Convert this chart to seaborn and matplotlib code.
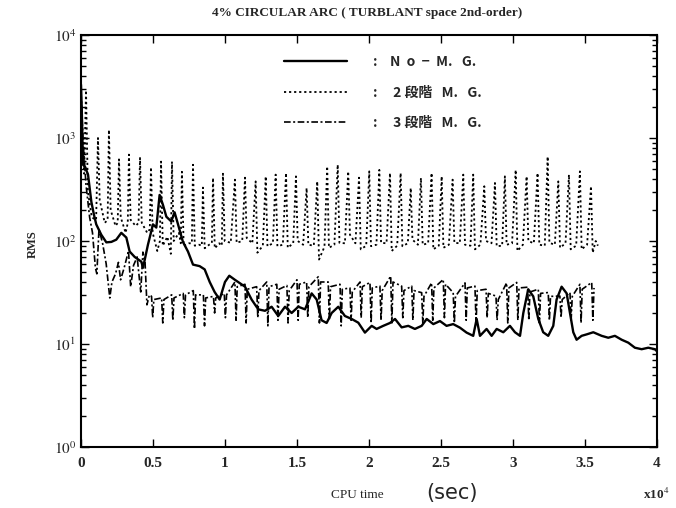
import matplotlib
matplotlib.use("Agg")
import matplotlib.pyplot as plt
import seaborn as sns
from matplotlib.ticker import LogLocator, NullFormatter, FixedLocator

# ---------------- data ----------------
# No-M.G. (solid)
solid_x = [0.000, 0.005, 0.014, 0.030, 0.049, 0.072, 0.090, 0.106, 0.141, 0.176,
           0.211, 0.245, 0.280, 0.315, 0.338, 0.373, 0.419, 0.431, 0.465, 0.500,
           0.523, 0.546, 0.569, 0.593, 0.627, 0.650, 0.674, 0.708, 0.743, 0.778,
           0.824, 0.859, 0.894, 0.928, 0.963, 1.000, 1.030, 1.069, 1.139, 1.185,
           1.231, 1.278, 1.324, 1.370, 1.417, 1.463, 1.509, 1.556, 1.602, 1.637,
           1.671, 1.706, 1.741, 1.787, 1.833, 1.880, 1.926, 1.972, 2.019, 2.053,
           2.099, 2.146, 2.181, 2.227, 2.273, 2.319, 2.366, 2.401, 2.447, 2.493,
           2.539, 2.585, 2.632, 2.678, 2.724, 2.748, 2.771, 2.817, 2.852, 2.887,
           2.933, 2.979, 3.014, 3.049, 3.072, 3.106, 3.141, 3.176, 3.210, 3.245,
           3.280, 3.303, 3.338, 3.373, 3.396, 3.419, 3.442, 3.477, 3.512, 3.558,
           3.616, 3.662, 3.708, 3.755, 3.801, 3.847, 3.894, 3.940, 3.986, 4.000]
solid_y = [3300, 2000, 550, 520, 440, 240, 180, 145, 115, 97,
           98, 103, 120, 108, 79, 70, 63, 55, 92, 145,
           135, 280, 225, 172, 155, 190, 145, 98, 79, 59,
           57, 53, 40, 32, 27, 40, 46, 42, 36, 27,
           21.7, 21, 23, 18.7, 23, 20, 23, 21.7, 31, 27,
           17, 16, 20, 23, 18.7, 17.5, 16.1, 12.9, 15, 14,
           15, 16, 17.5, 14.5, 15, 14, 15, 17.5, 15.6, 16.7,
           15, 15.6, 14.4, 12.9, 12, 17.5, 12, 14, 12, 14,
           13, 15, 13, 12, 20, 34, 29, 17.5, 13, 12,
           15, 27, 36, 31, 20, 13, 11, 12, 12.4, 13,
           12, 11.5, 12, 11, 10.3, 9.2, 8.9, 9.2, 8.9, 8.5]

# 2段階 M.G. (dotted)
dot_x = [0.000, 0.022, 0.035, 0.048, 0.075, 0.105, 0.118, 0.130, 0.165, 0.185,
         0.194, 0.206, 0.240, 0.255, 0.264, 0.276, 0.310, 0.325, 0.333, 0.345,
         0.380, 0.400, 0.410, 0.422, 0.460, 0.478, 0.486, 0.498, 0.530, 0.548,
         0.556, 0.568, 0.600, 0.624, 0.632, 0.644, 0.680, 0.693, 0.701, 0.713,
         0.750, 0.770, 0.778, 0.790, 0.820, 0.839, 0.847, 0.859, 0.890, 0.909,
         0.917, 0.929, 0.960, 0.978, 0.986, 0.998, 1.040,
         1.069, 1.081, 1.120, 1.139, 1.151, 1.190, 1.213, 1.225, 1.263,
         1.283, 1.295, 1.333, 1.352, 1.364, 1.402, 1.424, 1.436, 1.474,
         1.493, 1.505, 1.543, 1.567, 1.579, 1.617, 1.641, 1.653, 1.691,
         1.710, 1.722, 1.760, 1.783, 1.795, 1.833, 1.856, 1.868, 1.906,
         1.931, 1.943, 1.981, 2.002, 2.014, 2.052, 2.072, 2.084, 2.122,
         2.146, 2.158, 2.196, 2.220, 2.232, 2.270, 2.290, 2.302, 2.340,
         2.361, 2.373, 2.411, 2.435, 2.447, 2.485, 2.505, 2.517, 2.555,
         2.581, 2.593, 2.631, 2.655, 2.667, 2.705, 2.724, 2.736, 2.774,
         2.801, 2.813, 2.851, 2.875, 2.887, 2.925, 2.944, 2.956, 2.994,
         3.019, 3.031, 3.069, 3.095, 3.107, 3.145, 3.171, 3.183, 3.221,
         3.241, 3.253, 3.291, 3.315, 3.327, 3.365, 3.389, 3.401, 3.439,
         3.465, 3.477, 3.515, 3.542, 3.554, 3.575, 3.590]
dot_y = [2500, 450, 2900, 300, 170, 160, 1000, 250, 150, 160,
         1200, 200, 140, 150, 620, 170, 120, 150, 690, 160,
         140, 150, 640, 150, 120, 130, 520, 120, 80, 100,
         590, 90, 110, 75, 590, 100, 120, 95, 470, 90,
         95, 95, 550, 90, 92, 90, 330, 85, 92, 95,
         410, 85, 95, 90, 450, 100, 96,
         394, 96, 100, 412, 107, 95, 379, 77, 90,
         424, 89, 95, 441, 89, 92, 457, 86, 95,
         424, 100, 92, 327, 92, 90, 379, 66, 88,
         530, 86, 92, 551, 96, 95, 474, 115, 95,
         412, 83, 90, 474, 89, 92, 490, 96, 95,
         457, 80, 90, 457, 89, 95, 327, 103, 92,
         410, 92, 95, 457, 83, 90, 424, 86, 92,
         394, 96, 95, 441, 92, 90, 441, 83, 92,
         340, 100, 95, 366, 89, 90, 424, 92, 95,
         490, 80, 92, 424, 100, 95, 457, 92, 90,
         660, 96, 92, 379, 86, 95, 441, 83, 90,
         474, 83, 92, 340, 77, 100, 90]

# 3段階 M.G. (dash-dot)
dd_x = [0.000, 0.015, 0.035, 0.060, 0.080, 0.100, 0.110, 0.125, 0.150, 0.175,
        0.200, 0.215, 0.240, 0.260, 0.275, 0.300, 0.330, 0.345, 0.365, 0.390,
        0.415, 0.430, 0.445, 0.458, 0.475,
        0.490, 0.498, 0.506, 0.560, 0.568, 0.576, 0.630, 0.638, 0.646,
        0.710, 0.718, 0.726, 0.780, 0.788, 0.796, 0.850, 0.858, 0.866,
        0.920, 0.928, 0.936, 0.995, 1.003, 1.011, 1.069, 1.077, 1.085,
        1.139, 1.147, 1.155, 1.220, 1.228, 1.236, 1.290, 1.298, 1.306,
        1.360, 1.368, 1.376, 1.430, 1.438, 1.446, 1.500, 1.508, 1.516,
        1.567, 1.575, 1.583, 1.648, 1.656, 1.664, 1.717, 1.725, 1.733,
        1.799, 1.807, 1.815, 1.868, 1.876, 1.884, 1.938, 1.946, 1.954,
        2.007, 2.015, 2.023, 2.076, 2.084, 2.092, 2.151, 2.159, 2.167,
        2.227, 2.235, 2.243, 2.297, 2.305, 2.313, 2.366, 2.374, 2.382,
        2.435, 2.443, 2.451, 2.516, 2.524, 2.532, 2.585, 2.593, 2.601,
        2.667, 2.675, 2.683, 2.736, 2.744, 2.752, 2.813, 2.821, 2.829,
        2.882, 2.890, 2.898, 2.956, 2.964, 2.972, 3.026, 3.034, 3.042,
        3.102, 3.110, 3.118, 3.176, 3.184, 3.192, 3.245, 3.253, 3.261,
        3.326, 3.334, 3.342, 3.396, 3.404, 3.412, 3.465, 3.473, 3.481,
        3.547, 3.555, 3.563]
dd_y = [2800, 900, 350, 170, 120, 55, 48, 130, 95, 60,
        28, 40, 48, 62, 42, 55, 80, 36, 58, 70,
        32, 78, 62, 24, 30,
        29, 18, 27, 28, 16, 27, 30, 17, 28,
        31, 18, 30, 33, 14, 30, 30, 15, 28,
        29, 20, 28, 31, 18, 30, 40, 17, 36,
        38, 16, 34, 36, 18, 33, 40, 15, 36,
        38, 17, 34, 37, 16, 33, 42, 17, 38,
        40, 18, 36, 45, 16, 40, 40, 17, 36,
        38, 15, 34, 35, 17, 32, 40, 18, 36,
        39.6, 16, 35, 36.5, 17, 33, 45.6, 16, 40,
        36.5, 18, 33, 36.5, 17, 33, 31.5, 16, 29,
        39.2, 17, 35, 42.3, 18, 38, 31.5, 16, 29,
        39.2, 17, 35, 36.5, 16, 33, 34, 18, 31,
        29.2, 17, 27, 39.2, 16, 35, 39.6, 17, 35,
        35.6, 17, 32, 34, 16, 31, 31.6, 17, 29,
        29.2, 18, 27, 31.6, 17, 29, 38, 16, 34,
        39.6, 17, 35]

labels = [":    N  o  \u2212  M.   G.", ":     2 段階   M.   G.", ":     3 段階   M.   G."]
x_ticks = [0, 0.5, 1, 1.5, 2, 2.5, 3, 3.5, 4]
x_tick_labels = ["0", "0.5", "1", "1.5", "2", "2.5", "3", "3.5", "4"]
y_ticks = [1, 10, 100, 1000, 10000]
y_tick_labels = ["$10^{0}$", "$10^{1}$", "$10^{2}$", "$10^{3}$", "$10^{4}$"]

# ---------------- drawing ----------------
sns.set_style("ticks")
plt.rcParams["font.family"] = ["Liberation Serif", "DejaVu Serif"]
plt.rcParams["mathtext.fontset"] = "stix"

fig = plt.figure(figsize=(6.76, 5.08), dpi=100)
ax = fig.add_axes([0.1198, 0.1201, 0.852, 0.811])

sns.lineplot(x=solid_x, y=solid_y, ax=ax, color="black", linewidth=1.7,
             estimator=None, sort=False, label=labels[0])
sns.lineplot(x=dot_x, y=dot_y, ax=ax, color="black", linewidth=1.3,
             linestyle=(0, (1.2, 1.6)), estimator=None, sort=False, label=labels[1])
sns.lineplot(x=dd_x, y=dd_y, ax=ax, color="black", linewidth=1.2,
             linestyle=(0, (4, 1.5, 1.2, 1.5)), estimator=None, sort=False, label=labels[2])

ax.set_yscale("log")
ax.set_xlim(0, 4)
ax.set_ylim(1, 1e4)
ax.set_xticks(x_ticks)
ax.set_xticklabels(x_tick_labels, fontsize=11, fontweight="bold")
ax.yaxis.set_major_locator(FixedLocator(y_ticks))
ax.set_yticklabels(y_tick_labels, fontsize=11)
ax.yaxis.set_minor_locator(LogLocator(base=10, subs=range(2, 10)))
ax.yaxis.set_minor_formatter(NullFormatter())
ax.tick_params(which="both", direction="in", top=True, right=True, width=1.0, color="black")
ax.tick_params(which="major", length=6)
ax.tick_params(which="minor", length=3.5)
ax.tick_params(axis="x", pad=7)
for s in ax.spines.values():
    s.set_linewidth(1.5)
    s.set_color("black")

ax.set_xlabel("")
ax.set_ylabel("")
fig.text(0.048, 0.52, "RMS", rotation=90, fontsize=9, fontweight="bold", ha="center", va="center")
fig.text(0.528, 0.026, "CPU time", fontsize=9.5, ha="center", va="center")
fig.text(0.668, 0.030, "(sec)", fontsize=15, family=["DejaVu Sans"], ha="center", va="center")
fig.text(0.99, 0.026, "x10$^{4}$", fontsize=9.5, fontweight="bold", ha="right", va="center")
fig.text(0.543, 0.975, "4% CIRCULAR ARC ( TURBLANT space 2nd-order)", fontsize=9.5,
         fontweight="bold", ha="center", va="center")

handles, _ = ax.get_legend_handles_labels()
leg = ax.legend(handles, labels, loc="upper left", bbox_to_anchor=(0.331, 0.982),
                frameon=False, handlelength=4.5, handletextpad=1.9, labelspacing=1.2,
                prop={"family": ["Noto Sans CJK JP", "DejaVu Sans"], "weight": "bold", "size": 10})

fig.savefig("out.png", dpi=100, facecolor="white")
